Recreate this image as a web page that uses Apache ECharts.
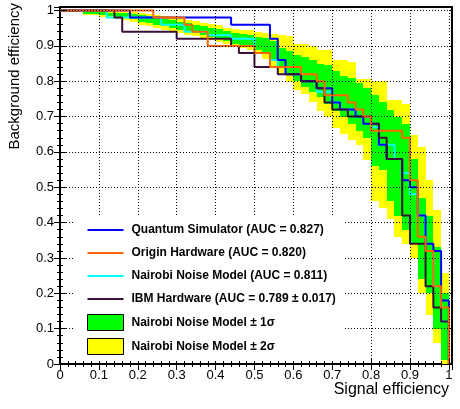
<!DOCTYPE html>
<html>
<head>
<meta charset="utf-8">
<script src="https://cdn.jsdelivr.net/npm/echarts@6/dist/echarts.min.js"></script>
<style>
  html, body { margin: 0; padding: 0; background: #fff; }
  #roc { width: 460px; height: 409px; }
</style>
</head>
<body>
<div id="roc"></div>
<script>
  // ROC step curves: signal efficiency where the step happens, background efficiency after it
  const simX = [0, 0.18, 0.44, 0.54, 0.56, 0.58, 0.62, 0.66, 0.70, 0.72, 0.76, 0.78, 0.82, 0.84, 0.88, 0.90, 0.92, 0.94, 0.96, 0.98, 1.0];
  const simY = [1, 0.98, 0.96, 0.92, 0.86, 0.82, 0.80, 0.78, 0.74, 0.72, 0.70, 0.68, 0.62, 0.58, 0.52, 0.50, 0.42, 0.34, 0.32, 0.18, 0];

  const originX = [0, 0.24, 0.32, 0.34, 0.38, 0.50, 0.54, 0.62, 0.66, 0.68, 0.74, 0.76, 0.78, 0.80, 0.88, 0.90, 0.92, 0.94, 0.96, 0.98, 1.0];
  const originY = [1, 0.98, 0.96, 0.94, 0.90, 0.88, 0.84, 0.82, 0.80, 0.76, 0.74, 0.72, 0.70, 0.66, 0.64, 0.52, 0.36, 0.32, 0.22, 0.16, 0];

  const nairobiX = [0, 0.12, 0.26, 0.32, 0.38, 0.44, 0.50, 0.54, 0.56, 0.58, 0.62, 0.66, 0.70, 0.72, 0.76, 0.80, 0.82, 0.86, 0.88, 0.90, 0.92, 0.94, 0.96, 0.98, 1.0];
  const nairobiY = [1, 0.98, 0.96, 0.94, 0.93, 0.92, 0.88, 0.86, 0.84, 0.82, 0.80, 0.77, 0.74, 0.72, 0.70, 0.67, 0.62, 0.58, 0.54, 0.48, 0.42, 0.32, 0.22, 0.12, 0];

  const ibmX = [0, 0.14, 0.16, 0.30, 0.44, 0.46, 0.50, 0.56, 0.62, 0.66, 0.68, 0.70, 0.74, 0.80, 0.82, 0.84, 0.88, 0.90, 0.94, 0.96, 0.98, 1.0];
  const ibmY = [1, 0.98, 0.94, 0.92, 0.90, 0.88, 0.84, 0.82, 0.80, 0.78, 0.74, 0.72, 0.70, 0.68, 0.64, 0.58, 0.42, 0.34, 0.22, 0.16, 0.12, 0];

  // noise model bands, one box per signal-efficiency bin
  const binEdges = [0, 0.02, 0.04, 0.06, 0.08, 0.10, 0.12, 0.14, 0.16, 0.18, 0.20, 0.22, 0.24, 0.26, 0.28, 0.30, 0.32, 0.34, 0.36, 0.38, 0.40,
    0.42, 0.44, 0.46, 0.48, 0.50, 0.52, 0.54, 0.56, 0.58, 0.60, 0.62, 0.64, 0.66, 0.68, 0.70, 0.72, 0.74, 0.76, 0.78, 0.80,
    0.82, 0.84, 0.86, 0.88, 0.90, 0.92, 0.94, 0.96, 0.98, 1.0];
  const twoSigmaHi = [1, 1, 1, 0.998, 0.998, 0.998, 0.998, 0.997, 0.996, 0.995, 0.993, 0.99, 0.988, 0.985, 0.982, 0.978, 0.974, 0.97, 0.966, 0.962,
    0.958, 0.952, 0.948, 0.946, 0.944, 0.938, 0.936, 0.934, 0.93, 0.928, 0.906, 0.906, 0.90, 0.887, 0.887, 0.859, 0.859, 0.855, 0.807, 0.807,
    0.80, 0.80, 0.746, 0.746, 0.736, 0.647, 0.614, 0.52, 0.435, 0.257];
  const oneSigmaHi = [1, 1, 1, 0.996, 0.996, 0.995, 0.994, 0.993, 0.992, 0.99, 0.986, 0.984, 0.98, 0.976, 0.972, 0.968, 0.965, 0.96, 0.956, 0.952,
    0.948, 0.942, 0.936, 0.934, 0.93, 0.926, 0.922, 0.915, 0.895, 0.885, 0.875, 0.868, 0.86, 0.85, 0.845, 0.83, 0.815, 0.81, 0.795, 0.78,
    0.76, 0.74, 0.72, 0.70, 0.68, 0.58, 0.47, 0.42, 0.33, 0.20];
  const oneSigmaLo = [0.998, 0.998, 0.998, 0.99, 0.99, 0.987, 0.984, 0.98, 0.978, 0.975, 0.968, 0.965, 0.96, 0.955, 0.95, 0.946, 0.94, 0.936, 0.93, 0.925,
    0.92, 0.914, 0.906, 0.902, 0.897, 0.887, 0.878, 0.862, 0.84, 0.82, 0.80, 0.785, 0.77, 0.755, 0.735, 0.717, 0.70, 0.68, 0.66, 0.64,
    0.56, 0.55, 0.46, 0.42, 0.38, 0.34, 0.24, 0.20, 0.10, 0.01];
  const twoSigmaLo = [0.996, 0.996, 0.996, 0.986, 0.986, 0.983, 0.98, 0.976, 0.973, 0.968, 0.96, 0.957, 0.952, 0.946, 0.942, 0.937, 0.932, 0.928, 0.922, 0.917,
    0.912, 0.905, 0.897, 0.893, 0.888, 0.877, 0.862, 0.84, 0.82, 0.798, 0.775, 0.765, 0.74, 0.717, 0.70, 0.667, 0.65, 0.635, 0.62, 0.578,
    0.46, 0.44, 0.41, 0.36, 0.34, 0.30, 0.20, 0.14, 0.06, 0];

  const font = '"Liberation Sans", Arial, Helvetica, sans-serif';
  // thin horizontal bar inside a 36x16 box, used as the legend mark of the curves
  const lineIcon = 'path://M0,0 M0,7 L36,7 L36,9 L0,9 Z M36,16';
  const chart = echarts.init(document.getElementById('roc'));

  function steps(xs, ys) {
    return xs.map((x, i) => [x, ys[i]]);
  }

  function curve(name, xs, ys, color, z) {
    return {
      name: name,
      type: 'line',
      step: 'end',
      symbol: 'none',
      showSymbol: false,
      z: z,
      lineStyle: {color: color, width: 2},
      itemStyle: {color: color},
      data: steps(xs, ys),
    };
  }

  function band(name, lo, hi, color) {
    return {
      name: name,
      type: 'custom',
      z: 1,
      silent: true,
      itemStyle: {color: color, borderColor: '#000', borderWidth: 1},
      encode: {x: [0, 1], y: [2, 3]},
      data: lo.map((v, i) => [binEdges[i], binEdges[i + 1], v, hi[i]]),
      renderItem: function(params, api) {
        const a = api.coord([api.value(0), api.value(3)]);
        const b = api.coord([api.value(1), api.value(2)]);
        const x0 = Math.round(a[0]), x1 = Math.round(b[0]);
        const y0 = Math.round(a[1]), y1 = Math.round(b[1]);
        return {
          type: 'rect',
          shape: {x: x0, y: y0, width: x1 - x0, height: y1 - y0},
          style: {fill: color},
        };
      },
    };
  }

  function tickLabel(v) {
    const r = Math.round(v * 10) / 10;
    if (Math.abs(v - r) > 0.001) return '';
    if (r === 0) return '0';
    if (r === 1) return '1';
    return r.toFixed(1);
  }

  const tickStyle = {
    axisLine: {show: false},
    axisTick: {inside: true, length: 6, lineStyle: {color: '#000', width: 1}},
    minorTick: {show: true, splitNumber: 5, length: 3, lineStyle: {color: '#000', width: 1}},
  };

  chart.setOption({
    animation: false,
    backgroundColor: '#fff',
    grid: {
      left: 60, right: 8, top: 7, bottom: 45,
      show: true,
      borderColor: '#000',
      borderWidth: 2,
    },
    xAxis: [
      Object.assign({
        type: 'value', min: 0, max: 1.008, interval: 0.1, z: 3,
        splitLine: {show: true, lineStyle: {color: '#000', width: 1, type: [1, 2]}},
        axisLabel: {formatter: tickLabel, fontSize: 13, fontFamily: font, color: '#000', margin: 5},
      }, tickStyle),
      Object.assign({
        type: 'value', position: 'top', min: 0, max: 1.008, interval: 0.1, z: 3,
        splitLine: {show: false},
        axisLabel: {show: false},
      }, tickStyle),
    ],
    yAxis: [
      Object.assign({
        type: 'value', min: 0, max: 1.01, interval: 0.1, z: 3,
        splitLine: {show: true, lineStyle: {color: '#000', width: 1, type: [1, 2]}},
        axisLabel: {formatter: tickLabel, fontSize: 13, fontFamily: font, color: '#000', margin: 6},
      }, tickStyle),
      Object.assign({
        type: 'value', position: 'right', min: 0, max: 1.01, interval: 0.1, z: 3,
        splitLine: {show: false},
        axisLabel: {show: false},
      }, tickStyle),
    ],
    legend: {
      orient: 'vertical',
      left: 75,
      top: 216,
      padding: [6, 8, 6, 12],
      backgroundColor: '#fff',
      itemWidth: 36,
      itemHeight: 16,
      itemGap: 7,
      selectedMode: false,
      textStyle: {fontFamily: font, fontWeight: 'bold', fontSize: 12, color: '#000', padding: [0, 0, 0, 3]},
      data: [
        {name: 'Quantum Simulator (AUC = 0.827)', icon: lineIcon, itemStyle: {color: '#0000ff', borderWidth: 0}},
        {name: 'Origin Hardware (AUC = 0.820)', icon: lineIcon, itemStyle: {color: '#ff6600', borderWidth: 0}},
        {name: 'Nairobi Noise Model (AUC = 0.811)', icon: lineIcon, itemStyle: {color: '#00ffff', borderWidth: 0}},
        {name: 'IBM Hardware (AUC = 0.789 ± 0.017)', icon: lineIcon, itemStyle: {color: '#3a1038', borderWidth: 0}},
        {name: 'Nairobi Noise Model ± 1σ', icon: 'rect', itemStyle: {color: '#00ff00', borderColor: '#000', borderWidth: 1}},
        {name: 'Nairobi Noise Model ± 2σ', icon: 'rect', itemStyle: {color: '#ffff00', borderColor: '#000', borderWidth: 1}},
      ],
    },
    graphic: [
      {
        type: 'text', x: 449, y: 390,
        style: {text: 'Signal efficiency', font: '16px ' + font, fill: '#000', textAlign: 'right', textVerticalAlign: 'middle'},
      },
      {
        type: 'text', x: 15, y: 3, rotation: Math.PI / 2,
        style: {text: 'Background efficiency', font: '15px ' + font, fill: '#000', textAlign: 'right', textVerticalAlign: 'middle'},
      },
    ],
    series: [
      band('Nairobi Noise Model ± 2σ', twoSigmaLo, twoSigmaHi, '#ffff00'),
      band('Nairobi Noise Model ± 1σ', oneSigmaLo, oneSigmaHi, '#00ff00'),
      curve('Nairobi Noise Model (AUC = 0.811)', nairobiX, nairobiY, '#00ffff', 2),
      curve('Quantum Simulator (AUC = 0.827)', simX, simY, '#0000ff', 2),
      curve('IBM Hardware (AUC = 0.789 ± 0.017)', ibmX, ibmY, '#3a1038', 2),
      curve('Origin Hardware (AUC = 0.820)', originX, originY, '#ff6600', 2),
    ],
  });
</script>
</body>
</html>
